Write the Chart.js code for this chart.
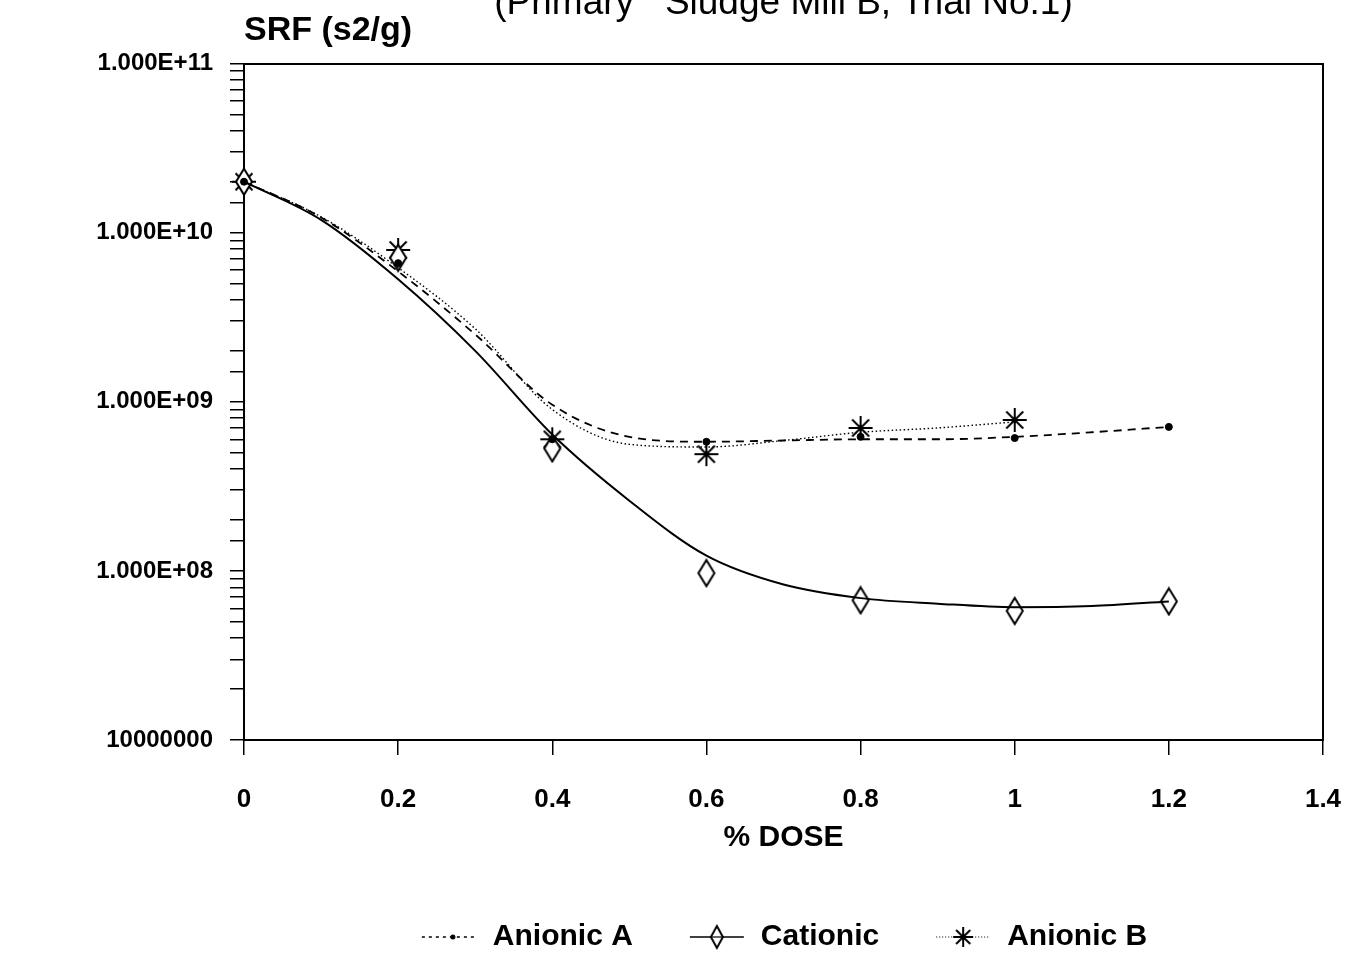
<!DOCTYPE html>
<html><head><meta charset="utf-8">
<script src="https://cdn.jsdelivr.net/npm/chart.js@4.4.1/dist/chart.umd.min.js"></script>
<style>html,body{margin:0;padding:0;background:#fff;} #wrap{width:1357px;height:955px;position:relative;}</style>
</head><body><div id="wrap"><canvas id="c" width="1357" height="955"></canvas></div>
<script>
// ---- data ----
const titleText = '(Primary   Sludge Mill B, Trial No.1)';
const yAxisTitle = 'SRF (s2/g)';
const xAxisTitle = '% DOSE';
const seriesNames = ['Anionic A', 'Cationic', 'Anionic B'];

const doses = [0, 0.2, 0.4, 0.6, 0.8, 1.0, 1.2];
const anionicA = [2.0e10, 6.6e9, 6.0e8, 5.8e8, 6.2e8, 6.1e8, 7.1e8];
const cationic = [2.0e10, 7.1e9, 5.3e8, 9.7e7, 6.7e7, 5.8e7, 6.6e7];
const anionicB = [2.0e10, 7.9e9, 6.0e8, 4.9e8, 7.0e8, 7.8e8];

// smoothed fit curves as drawn in the reference
const fitDoses = [0, 0.1, 0.2, 0.3, 0.4, 0.5, 0.6, 0.7, 0.8, 0.9, 1.0, 1.1, 1.2];
const anionicAFit = [2.0e10, 1.23e10, 5.9e9, 2.5e9, 9.6e8, 6.2e8, 5.8e8, 5.9e8, 6.0e8, 6.0e8, 6.2e8, 6.6e8, 7.1e8];
const cationicFit = [2.0e10, 1.19e10, 5.3e9, 2.0e9, 6.4e8, 2.6e8, 1.23e8, 8.3e7, 6.9e7, 6.4e7, 6.1e7, 6.2e7, 6.6e7];
const anionicBFit = [2.0e10, 1.24e10, 6.2e9, 2.7e9, 9.0e8, 5.6e8, 5.4e8, 5.9e8, 6.6e8, 7.0e8, 7.6e8];

const xTickLabels = ['0', '0.2', '0.4', '0.6', '0.8', '1', '1.2', '1.4'];
const yTickValues = [1e7, 1e8, 1e9, 1e10, 1e11];
const yTickLabels = ['10000000', '1.000E+08', '1.000E+09', '1.000E+10', '1.000E+11'];

// ---- helpers ----
const pts = (xs, ys) => ys.map((y, i) => ({x: xs[i], y}));
const FONT = "'Liberation Sans', Arial, sans-serif";

function makeCanvas(w, h, draw) {
  const c = document.createElement('canvas');
  c.width = w; c.height = h;
  const g = c.getContext('2d');
  g.strokeStyle = '#000'; g.fillStyle = '#000';
  draw(g, w, h);
  return c;
}
function drawDiamond(g, cx, cy, hw, hh) {
  g.beginPath();
  g.moveTo(cx, cy - hh); g.lineTo(cx + hw, cy); g.lineTo(cx, cy + hh); g.lineTo(cx - hw, cy); g.closePath();
  g.fillStyle = '#fff'; g.fill();
  g.lineWidth = 2; g.strokeStyle = '#000'; g.stroke();
}
function drawStar(g, cx, cy, r) {
  g.lineWidth = 2; g.strokeStyle = '#000';
  g.beginPath();
  for (let k = 0; k < 4; k++) {
    const a = k * Math.PI / 4;
    g.moveTo(cx - r * Math.sin(a), cy - r * Math.cos(a));
    g.lineTo(cx + r * Math.sin(a), cy + r * Math.cos(a));
  }
  g.stroke();
}
const diamondMarker = makeCanvas(20, 30, (g, w, h) => drawDiamond(g, w / 2, h / 2, 8, 13));
const starMarker = makeCanvas(28, 28, (g, w, h) => drawStar(g, w / 2, h / 2, 12));

const legendA = makeCanvas(58, 24, (g, w, h) => {
  g.lineWidth = 1.5; g.setLineDash([3, 4]);
  g.beginPath(); g.moveTo(2, h / 2); g.lineTo(w - 2, h / 2); g.stroke();
  g.setLineDash([]);
  g.beginPath(); g.arc(w / 2 + 4, h / 2, 2.5, 0, Math.PI * 2); g.fill();
});
const legendC = makeCanvas(58, 28, (g, w, h) => {
  g.lineWidth = 1.6;
  g.beginPath(); g.moveTo(2, h / 2); g.lineTo(w - 2, h / 2); g.stroke();
  drawDiamond(g, w / 2, h / 2, 6, 11);
  g.lineWidth = 1.2; g.beginPath(); g.moveTo(w / 2 - 6, h / 2); g.lineTo(w / 2 + 6, h / 2); g.stroke();
});
const legendB = makeCanvas(58, 28, (g, w, h) => {
  g.lineWidth = 1.2; g.setLineDash([1, 2]);
  g.beginPath(); g.moveTo(2, h / 2); g.lineTo(w - 2, h / 2); g.stroke();
  g.setLineDash([]);
  drawStar(g, w / 2, h / 2, 10);
});
const legendImages = [legendA, legendC, legendB];

const ctx = document.getElementById('c').getContext('2d');
new Chart(ctx, {
  type: 'line',
  data: {
    datasets: [
      {label: seriesNames[0] + ' fit', data: pts(fitDoses, anionicAFit), borderColor: '#000', borderWidth: 1.8, borderDash: [8, 6], pointRadius: 0, cubicInterpolationMode: 'monotone', fill: false},
      {label: seriesNames[1] + ' fit', data: pts(fitDoses, cationicFit), borderColor: '#000', borderWidth: 2, pointRadius: 0, cubicInterpolationMode: 'monotone', fill: false},
      {label: seriesNames[2] + ' fit', data: pts(fitDoses, anionicBFit), borderColor: '#000', borderWidth: 1.4, borderDash: [1.5, 2.5], pointRadius: 0, cubicInterpolationMode: 'monotone', fill: false},
      {label: seriesNames[0], data: pts(doses, anionicA), showLine: false, clip: false, pointStyle: 'circle', pointRadius: 3.5, pointBackgroundColor: '#000', pointBorderColor: '#000', borderColor: '#000'},
      {label: seriesNames[1], data: pts(doses, cationic), showLine: false, clip: false, pointStyle: diamondMarker, pointRadius: 10, borderColor: '#000'},
      {label: seriesNames[2], data: pts(doses, anionicB), showLine: false, clip: false, pointStyle: starMarker, pointRadius: 12, borderColor: '#000'}
    ]
  },
  options: {
    responsive: false,
    animation: false,
    events: [],
    layout: {padding: {left: 0, right: 34, top: 0, bottom: -7}},
    plugins: {
      tooltip: {enabled: false},
      title: {
        display: true, text: titleText, fullSize: false, align: 'center', color: '#000',
        font: {family: FONT, size: 37, weight: 'normal', lineHeight: 1},
        padding: {top: -15, bottom: -8.5}
      },
      subtitle: {
        display: true, text: yAxisTitle, fullSize: false, align: 'start', color: '#000',
        font: {family: FONT, size: 34, weight: 'bold', lineHeight: 1},
        padding: {top: 0, bottom: 16}
      },
      legend: {
        display: true, position: 'bottom', fullSize: false, align: 'center',
        labels: {
          color: '#000', usePointStyle: true, pointStyleWidth: 58, boxHeight: 26, padding: 55,
          font: {family: FONT, size: 30, weight: 'bold'},
          filter: (item) => item.datasetIndex >= 3,
          generateLabels: (chart) => chart.data.datasets.map((ds, i) => ({
            text: ds.label, datasetIndex: i, pointStyle: i >= 3 ? legendImages[i - 3] : 'line',
            fillStyle: '#000', strokeStyle: '#000', lineWidth: 0, hidden: false, fontColor: '#000'
          }))
        }
      }
    },
    scales: {
      x: {
        type: 'linear', position: 'bottom', min: 0, max: 1.4,
        afterFit: (s) => { s.height = 127; s.paddingLeft = 0; s.paddingRight = 0; },
        ticks: {stepSize: 0.2, color: '#000', padding: 29, font: {family: FONT, size: 26, weight: 'bold'},
          callback: (v, i) => xTickLabels[i]},
        grid: {drawOnChartArea: false, drawTicks: true, tickLength: 15, color: '#000', lineWidth: 1.5},
        border: {display: true, color: '#000', width: 2},
        title: {display: true, text: xAxisTitle, color: '#000', font: {family: FONT, size: 30, weight: 'bold'}, padding: {top: 0, bottom: 11}}
      },
      y: {
        type: 'logarithmic', position: 'left', min: 1e7, max: 1e11,
        afterFit: (s) => { s.width = 244; s.paddingTop = 0; s.paddingBottom = 0; },
        ticks: {autoSkip: false, color: '#000', padding: 17, font: {family: FONT, size: 24, weight: 'bold'},
          callback: (v) => {
            const i = yTickValues.findIndex(t => Math.abs(Math.log10(t) - Math.log10(v)) < 1e-6);
            return i >= 0 ? yTickLabels[i] : '';
          }},
        grid: {drawOnChartArea: false, drawTicks: true, tickLength: 14, color: '#000', lineWidth: 1.5},
        border: {display: true, color: '#000', width: 2}
      },
      x2: {
        type: 'linear', position: 'top', display: true,
        afterFit: (s) => { s.height = 0; s.paddingLeft = 0; s.paddingRight = 0; },
        ticks: {display: false}, grid: {drawOnChartArea: false, drawTicks: false},
        border: {display: true, color: '#000', width: 2}
      },
      y2: {
        type: 'linear', position: 'right', display: true,
        afterFit: (s) => { s.width = 0; s.paddingTop = 0; s.paddingBottom = 0; },
        ticks: {display: false}, grid: {drawOnChartArea: false, drawTicks: false},
        border: {display: true, color: '#000', width: 2}
      }
    }
  }
});
</script></body></html>
